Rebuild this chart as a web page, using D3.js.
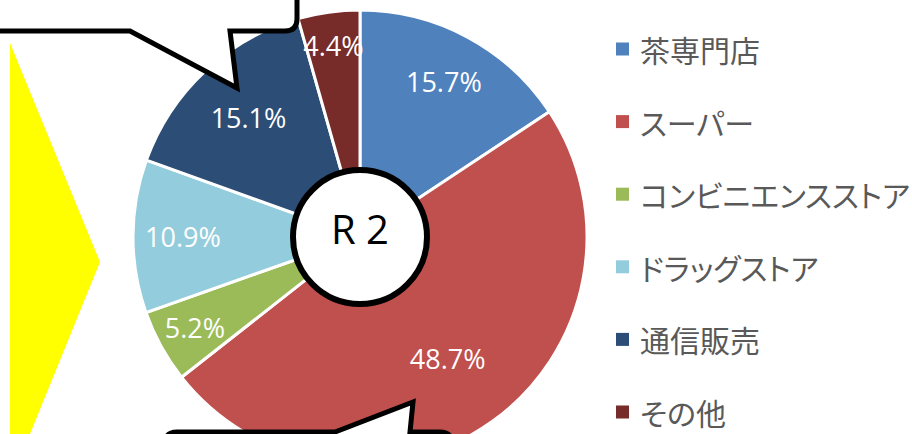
<!DOCTYPE html>
<html>
<head>
<meta charset="utf-8">
<script src="https://cdn.jsdelivr.net/npm/d3@7"></script>
<style>
  body { margin: 0; background: #fff; }
  svg { display: block; }
  .legend-text { font-feature-settings: "palt" 1; }
</style>
</head>
<body>
<div id="viz"></div>
<script>
// Data
const categories = ['茶専門店', 'スーパー', 'コンビニエンスストア', 'ドラッグストア', '通信販売', 'その他'];
const shares = [15.7, 48.7, 5.2, 10.9, 15.1, 4.4];
const colors = ['#4F81BD', '#C0504D', '#9BBB59', '#93CDDD', '#2C4D75', '#772C2A'];
const centerLabel = 'R 2';

const width = 912;
const height = 434;
const cx = 360, cy = 237, radius = 227;
// label distance from centre, as a fraction of radius (Excel "best fit" look)
const labelR = [0.78, 0.66, 0.83, 0.78, 0.72, 0.85];

const svg = d3.select('#viz')
  .append('svg')
  .attr('width', width)
  .attr('height', height)
  .attr('viewBox', [0, 0, width, height]);

const table = categories.map((c, i) => ({name: c, value: shares[i], color: colors[i], i}));

const pie = d3.pie()
  .value(d => d.value)
  .sort(null);

const arcs = pie(table);

const arc = d3.arc()
  .innerRadius(0)
  .outerRadius(radius);

const g = svg.append('g')
  .attr('transform', `translate(${cx}, ${cy})`);

g.selectAll('path.slice')
  .data(arcs)
  .join('path')
    .attr('class', 'slice')
    .attr('d', arc)
    .attr('fill', d => d.data.color)
    .attr('stroke', '#fff')
    .attr('stroke-width', 3)
    .attr('stroke-linejoin', 'round');

// percentage labels
g.selectAll('text.pct')
  .data(arcs)
  .join('text')
    .attr('class', 'pct')
    .attr('transform', d => {
      const r = radius * labelR[d.index];
      const a = (d.startAngle + d.endAngle) / 2;
      return `translate(${r * Math.sin(a)}, ${-r * Math.cos(a)})`;
    })
    .attr('text-anchor', 'middle')
    .attr('dominant-baseline', 'central')
    .attr('font-family', '"Open Sans", sans-serif')
    .attr('font-size', 27)
    .attr('fill', '#fff')
    .text(d => d.data.value.toFixed(1) + '%');

// centre circle
g.append('circle')
  .attr('r', 67)
  .attr('fill', '#fff')
  .attr('stroke', '#000')
  .attr('stroke-width', 6);

g.append('text')
  .attr('text-anchor', 'middle')
  .attr('dominant-baseline', 'middle')
  .attr('font-family', '"Open Sans", sans-serif')
  .attr('font-size', 40)
  .attr('fill', '#000')
  .attr('y', -4)
  .text(centerLabel);

// yellow arrow shape on the left
svg.append('path')
  .attr('d', 'M10,43 L100,262 L30,434 L10,434 Z')
  .attr('fill', '#FFFF00');

// speech bubble, top left
svg.append('path')
  .attr('d', 'M-20,31 L130,31 L237,88 L230,31 L285,31 Q297,31 297,19 L297,-20 L-20,-20 Z')
  .attr('fill', '#fff')
  .attr('stroke', '#000')
  .attr('stroke-width', 5)
  .attr('stroke-linejoin', 'miter');

// speech bubble, bottom
svg.append('path')
  .attr('d', 'M165,470 L165,444 Q165,432 177,432 L335,432 L413,402 L410,432 L440,432 Q452,432 452,444 L452,470 Z')
  .attr('fill', '#fff')
  .attr('stroke', '#000')
  .attr('stroke-width', 5);

// legend
const legend = svg.append('g')
  .selectAll('g')
  .data(table)
  .join('g')
    .attr('transform', d => `translate(616, ${49 + d.i * 72.6})`);

legend.append('rect')
  .attr('x', 0)
  .attr('y', -6.5)
  .attr('width', 13)
  .attr('height', 13)
  .attr('fill', d => d.color);

legend.append('text')
  .attr('class', 'legend-text')
  .attr('x', 24)
  .attr('dominant-baseline', 'central')
  .attr('font-family', '"Noto Sans CJK JP", sans-serif')
  .attr('font-size', 30)
  .attr('fill', '#595959')
  .text(d => d.name)
  .each(function() {
    // keep the longest entry inside the frame
    const maxW = width - 616 - 24 - 2;
    if (this.getComputedTextLength() > maxW) {
      d3.select(this)
        .attr('textLength', maxW)
        .attr('lengthAdjust', 'spacingAndGlyphs');
    }
  });
</script>
</body>
</html>
